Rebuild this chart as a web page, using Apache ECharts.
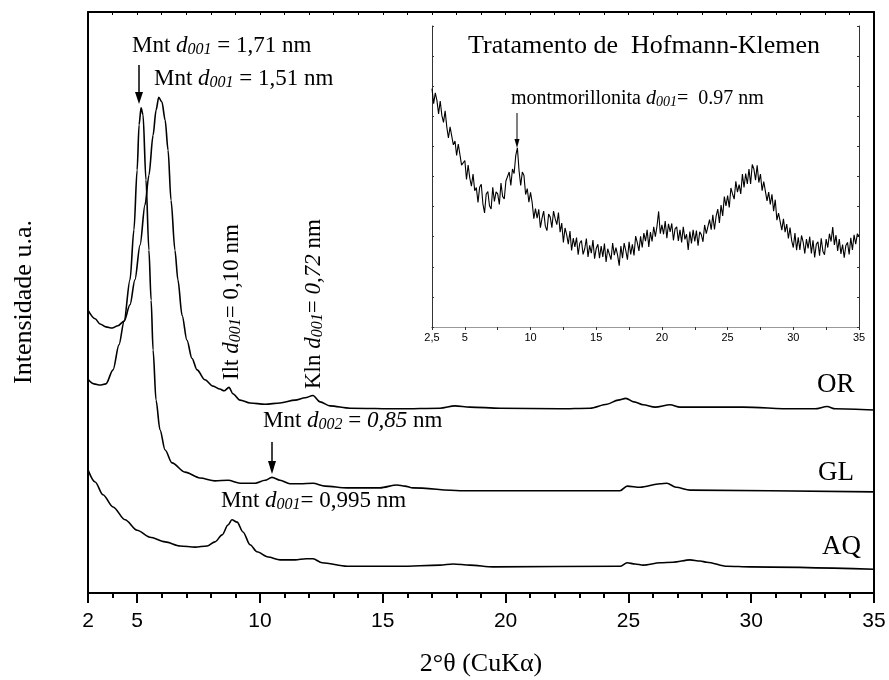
<!DOCTYPE html>
<html><head><meta charset="utf-8">
<script src="https://cdn.jsdelivr.net/npm/echarts@6/dist/echarts.min.js"></script>
<style>html,body{margin:0;padding:0;background:#fff}#c{width:889px;height:680px}</style>
</head><body><div id="c"></div>
<script>
// ---- data (2theta in degrees, intensity in arbitrary units) ----
const seriesNames = ['OR', 'GL', 'AQ'];
const orData = [
 [3.00,48.7],[3.29,47.2],[3.49,46.3],[3.73,45.8],[3.98,45.6],[4.22,46.0],[4.47,46.8],[4.71,49.6],[4.91,53.9],
 [5.12,59.9],[5.32,66.8],[5.48,71.9],[5.65,78.8],[5.77,83.1],[5.88,85.3],[6.01,84.5],[6.14,81.4],[6.26,76.2],
 [6.38,67.6],[6.54,59.0],[6.66,53.9],[6.83,47.8],[7.03,43.5],[7.23,40.4],[7.44,38.4],[7.76,36.7],[8.09,35.6],
 [8.37,35.1],[8.54,34.8],[8.74,35.4],[8.90,34.3],[9.19,33.2],[9.60,32.7],[10.21,32.5],[10.82,32.7],[11.43,33.2],
 [11.84,33.6],[12.16,34.0],[12.45,32.9],[12.85,32.2],[13.67,31.8],[15.70,31.7],[17.33,31.8],[17.94,32.2],
 [18.55,32.0],[19.78,31.8],[22.20,31.7],[23.44,31.8],[24.13,32.5],[24.58,33.2],[24.90,33.5],[25.23,32.9],
 [25.60,32.4],[26.09,32.0],[26.70,32.4],[27.10,32.0],[27.92,32.0],[29.67,32.0],[31.70,31.7],[32.60,31.7],
 [33.09,32.1],[33.42,31.7],[35.00,31.5]
];
const glData = [
 [3.00,36.8],[3.24,36.0],[3.49,35.8],[3.73,36.0],[4.02,38.4],[4.26,42.7],[4.47,46.8],[4.71,53.9],[4.87,62.5],
 [5.00,72.8],[5.08,80.6],[5.16,83.5],[5.24,82.3],[5.36,71.1],[5.48,59.0],[5.57,50.4],[5.65,41.8],[5.77,33.2],
 [5.93,28.1],[6.14,24.6],[6.42,22.4],[6.95,20.8],[7.56,19.8],[8.17,19.3],[8.70,19.4],[9.19,18.9],[9.80,18.9],
 [10.21,19.4],[10.49,19.9],[10.82,19.4],[11.22,18.8],[11.63,18.8],[12.16,18.9],[12.65,18.4],[13.55,18.1],
 [14.89,18.1],[15.58,18.6],[15.90,18.4],[16.23,18.1],[18.15,17.6],[24.66,17.6],[24.95,18.4],[25.48,18.2],
 [26.29,18.8],[26.57,18.9],[26.94,18.2],[27.51,17.7],[35.00,17.4]
];
const aqData = [
 [3.00,21.2],[3.29,19.1],[3.61,16.9],[4.02,14.8],[4.51,12.6],[5.00,10.8],[5.52,9.6],[6.14,8.8],[6.75,8.1],
 [7.36,7.9],[7.85,8.1],[8.17,8.8],[8.46,10.0],[8.70,11.7],[8.86,12.6],[9.07,12.2],[9.31,10.5],[9.60,8.3],
 [9.88,7.1],[10.33,6.2],[10.82,5.7],[11.43,5.7],[11.88,5.9],[12.16,5.9],[12.53,5.2],[13.55,4.6],[15.70,4.6],
 [17.33,4.8],[17.86,5.0],[18.55,4.8],[19.49,4.5],[24.66,4.6],[24.95,5.2],[25.27,5.0],[25.60,4.8],[26.29,5.2],
 [26.82,5.3],[27.51,5.7],[27.92,5.5],[28.20,5.3],[29.02,4.6],[29.95,4.5],[35.00,4.1]
];
// inset: Hofmann-Klemen treatment, sampled every 0.125 deg from 2.5 deg
const hkStart = 2.5, hkStep = 0.125;
const hkY = [
 79.2,74.2,77.8,75.3,70.8,75.1,70.3,68,
 71.8,66.5,62.8,66.5,66.3,60.5,61.8,57,
 60.8,61,53.8,54,55.3,49,53.8,49.5,
 46.8,50.8,45.3,46.3,41.4,46.4,47.4,40.9,
 37.9,44.2,45,40.3,39.2,46.4,41.7,44.9,
 44.2,40.7,47.8,43.4,42.5,48.5,48,51.5,
 47,52.5,51,57,59.5,52,47,51.5,
 50.3,44,46,41.5,44.7,41.3,36,39.3,
 36.2,39.1,33,36.2,38.5,33.5,32,37.5,
 36.5,33,38.5,36,34,38,31.5,34.5,
 28.1,32.9,30.7,27.5,31.9,25.4,29.5,26.6,
 29.7,24,27.9,28.7,24.1,26,29.4,23.3,
 27.1,24.5,28.9,22.7,26.1,27.5,22.9,26.9,
 23.3,27.7,21.6,26,25.4,22.4,27.9,23.9,
 26.4,23.9,20.4,26.9,22.9,27.9,25.4,22.4,
 28.3,24.1,27.5,23.8,30.2,28,25.3,30.1,
 26.4,31.2,28.5,32.3,26.6,31.5,28.4,33.3,
 30,33.5,38.4,31,33.9,30.8,35.2,29.5,
 34.3,31.6,34.4,28.8,32.6,33.3,28.6,32.3,
 28.1,33.3,29.1,30.8,25.6,31.7,27.8,32.3,
 28.4,32,27,31.6,30.7,28.3,33.9,31,
 30.6,35.7,32.3,37.3,32.4,36.8,39.2,34.6,
 40.5,36.9,43.3,40.2,43.7,39.7,46.2,44.2,
 42.5,48.4,44.8,47.3,44.2,50.8,46.4,51,
 47.5,52.5,47.5,54,52.5,48.8,53.7,48,
 50.8,45.3,48.3,48.4,41.9,44.8,40.7,44.1,
 38.5,42.3,35.5,37.8,37.5,32.2,35.9,31.5,
 34.2,29.4,33,28.7,26.4,31.2,25.5,29.8,
 25.6,30.4,28.2,24.4,29.2,26.1,30,24.4,
 28.8,23.1,27.5,28.3,23.7,29.5,25.2,24,
 29.2,26.4,31,28.4,33.2,27.3,30.5,25.3,
 29.2,24.3,27.4,23,27.1,28.1,24.1,29.6,
 25.6,30.6,27.5,31,30.1
];
// axes ticks / labels
const mainTickValues = [3, 5, 10, 15, 20, 25, 30, 35];
const mainTickLabels = ['2', '5', '10', '15', '20', '25', '30', '35'];
const mainMinorTicks = [3,4,6,7,8,9,11,12,13,14,16,17,18,19,21,22,23,24,26,27,28,29,31,32,33,34];
const insetTickValues = [2.5, 5, 10, 15, 20, 25, 30, 35];
const insetTickLabels = ['2,5', '5', '10', '15', '20', '25', '30', '35'];
const insetMinorTicks = [2.5,5,7.5,10,12.5,15,17.5,20,22.5,25,27.5,30,32.5,35];

const SERIF = "'Liberation Serif','Times New Roman',serif";
const SANS = "'Liberation Sans',Arial,sans-serif";
const allInts = [];
for (let v = 3; v <= 35; v++) allInts.push(v);
const hkData = hkY.map((y, i) => [hkStart + i * hkStep, y]);

function richStyle(fs, sub) {
  return {
    n: {fontFamily: SERIF, fontSize: fs, lineHeight: fs + 1, color: '#000'},
    i: {fontFamily: SERIF, fontSize: fs, lineHeight: fs + 1, fontStyle: 'italic', color: '#000'},
    s: {fontFamily: SERIF, fontSize: sub, lineHeight: sub, fontStyle: 'italic', color: '#000',
        padding: [Math.round(fs * 0.7), 0, 0, 0], verticalAlign: 'bottom'}
  };
}

const chart = echarts.init(document.getElementById('c'), null, {renderer: 'canvas'});
const mainLine = {color: '#000', width: 1.6};

chart.setOption({
  animation: false,
  backgroundColor: '#fff',
  grid: [
    {left: 88, top: 12, width: 786, height: 581},
    {left: 432, top: 26, width: 427, height: 301}
  ],
  xAxis: [
    {gridIndex: 0, type: 'value', min: 3, max: 35, position: 'bottom',
     axisLine: {lineStyle: {color: '#000', width: 2}},
     axisTick: {customValues: mainMinorTicks, length: 5, lineStyle: {color: '#000', width: 2}},
     axisLabel: {customValues: mainTickValues, margin: 18, fontSize: 21, fontFamily: SANS, color: '#000',
       formatter: v => mainTickLabels[mainTickValues.indexOf(v)] ?? ''},
     splitLine: {show: false}},
    {gridIndex: 0, type: 'value', min: 3, max: 35, position: 'bottom',
     axisLine: {show: false},
     axisTick: {customValues: mainTickValues, length: 10, lineStyle: {color: '#000', width: 2}},
     axisLabel: {show: false}, splitLine: {show: false}},
    {gridIndex: 0, type: 'value', min: 3, max: 35, position: 'top',
     axisLine: {lineStyle: {color: '#000', width: 2}},
     axisTick: {customValues: allInts, inside: true, length: 3, lineStyle: {color: '#000', width: 1}},
     axisLabel: {show: false}, splitLine: {show: false}},
    {gridIndex: 1, type: 'value', min: 2.5, max: 35, position: 'bottom',
     axisLine: {lineStyle: {color: '#333', width: 1}},
     axisTick: {customValues: insetMinorTicks, length: 3, lineStyle: {color: '#333', width: 1}},
     axisLabel: {customValues: insetTickValues, margin: 5, fontSize: 11, fontFamily: SANS, color: '#000',
       formatter: v => insetTickLabels[insetTickValues.indexOf(v)] ?? ''},
     splitLine: {show: false}},
    {gridIndex: 1, type: 'value', min: 2.5, max: 35, position: 'top',
     axisLine: {lineStyle: {color: '#999', width: 1}},
     axisTick: {show: false}, axisLabel: {show: false}, splitLine: {show: false}}
  ],
  yAxis: [
    {gridIndex: 0, type: 'value', min: 0, max: 100, position: 'left',
     axisLine: {show: true, lineStyle: {color: '#000', width: 2}},
     axisTick: {show: false}, axisLabel: {show: false}, splitLine: {show: false}},
    {gridIndex: 0, type: 'value', min: 0, max: 100, position: 'right',
     axisLine: {show: true, lineStyle: {color: '#000', width: 2}},
     axisTick: {show: false}, axisLabel: {show: false}, splitLine: {show: false}},
    {gridIndex: 1, type: 'value', min: 0, max: 100, interval: 10, position: 'left',
     axisLine: {show: true, lineStyle: {color: '#333', width: 1}},
     axisTick: {show: true, inside: true, length: 2, lineStyle: {color: '#333'}},
     axisLabel: {show: false}, splitLine: {show: false}},
    {gridIndex: 1, type: 'value', min: 0, max: 100, interval: 10, position: 'right',
     axisLine: {show: true, lineStyle: {color: '#333', width: 1}},
     axisTick: {show: true, inside: true, length: 2, lineStyle: {color: '#333'}},
     axisLabel: {show: false}, splitLine: {show: false}}
  ],
  series: [
    {name: seriesNames[0], type: 'line', xAxisIndex: 0, yAxisIndex: 0, data: orData, showSymbol: false,
     smooth: 0.3, smoothMonotone: 'x', lineStyle: mainLine},
    {name: seriesNames[1], type: 'line', xAxisIndex: 0, yAxisIndex: 0, data: glData, showSymbol: false,
     smooth: 0.3, smoothMonotone: 'x', lineStyle: mainLine},
    {name: seriesNames[2], type: 'line', xAxisIndex: 0, yAxisIndex: 0, data: aqData, showSymbol: false,
     smooth: 0.3, smoothMonotone: 'x', lineStyle: mainLine},
    {name: 'HK', type: 'line', xAxisIndex: 3, yAxisIndex: 2, data: hkData,
     showSymbol: false, lineStyle: {color: '#000', width: 1.1}}
  ],
  graphic: [
    // axis titles
    {type: 'text', x: 481, y: 664, style: {text: '2°θ (CuKα)', font: '26px ' + SERIF, fill: '#000',
      align: 'center', verticalAlign: 'middle'}},
    {type: 'text', x: 24, y: 302, rotation: Math.PI / 2, style: {text: 'Intensidade u.a.', font: '26px ' + SERIF,
      fill: '#000', align: 'center', verticalAlign: 'middle'}},
    // sample labels
    {type: 'text', x: 817, y: 385, style: {text: 'OR', font: '27px ' + SERIF, fill: '#000', verticalAlign: 'middle'}},
    {type: 'text', x: 818, y: 473, style: {text: 'GL', font: '27px ' + SERIF, fill: '#000', verticalAlign: 'middle'}},
    {type: 'text', x: 822, y: 547, style: {text: 'AQ', font: '27px ' + SERIF, fill: '#000', verticalAlign: 'middle'}},
    // peak annotations
    {type: 'text', x: 132, y: 34, style: {text: '{n|Mnt }{i|d}{s|001}{n| = 1,71 nm}', rich: richStyle(23, 16)}},
    {type: 'text', x: 154, y: 67, style: {text: '{n|Mnt }{i|d}{s|001}{n| = 1,51 nm}', rich: richStyle(23, 16)}},
    {type: 'text', x: 263, y: 409, style: {text: '{n|Mnt }{i|d}{s|002}{n| = }{i|0,85}{n| nm}', rich: richStyle(23, 16)}},
    {type: 'text', x: 221, y: 489, style: {text: '{n|Mnt }{i|d}{s|001}{n|= 0,995 nm}', rich: richStyle(23, 16)}},
    {type: 'text', x: 232, y: 380, rotation: Math.PI / 2,
     style: {text: '{n|Ilt }{i|d}{s|001}{n|= 0,10 nm}', rich: richStyle(23, 16), verticalAlign: 'middle'}},
    {type: 'text', x: 314, y: 389, rotation: Math.PI / 2,
     style: {text: '{n|Kln }{i|d}{s|001}{n|= }{i|0,72}{n| nm}', rich: richStyle(23, 16), verticalAlign: 'middle'}},
    // arrows
    {type: 'line', shape: {x1: 139, y1: 65, x2: 139, y2: 95}, style: {stroke: '#000', lineWidth: 1.5}},
    {type: 'polygon', shape: {points: [[135, 92], [143, 92], [139, 104]]}, style: {fill: '#000'}},
    {type: 'line', shape: {x1: 272, y1: 442, x2: 272, y2: 464}, style: {stroke: '#000', lineWidth: 1.5}},
    {type: 'polygon', shape: {points: [[268, 461], [276, 461], [272, 474]]}, style: {fill: '#000'}},
    // inset texts
    {type: 'text', x: 468, y: 46, style: {text: 'Tratamento de  Hofmann-Klemen', font: '26px ' + SERIF,
      fill: '#000', verticalAlign: 'middle'}},
    {type: 'text', x: 511, y: 88, style: {text: '{n|montmorillonita }{i|d}{s|001}{n|=  0.97 nm}', rich: richStyle(20, 14)}},
    {type: 'line', shape: {x1: 517, y1: 113, x2: 517, y2: 140}, style: {stroke: '#000', lineWidth: 1}},
    {type: 'polygon', shape: {points: [[514.5, 139], [519.5, 139], [517, 148]]}, style: {fill: '#000'}}
  ]
});
</script>
</body></html>
